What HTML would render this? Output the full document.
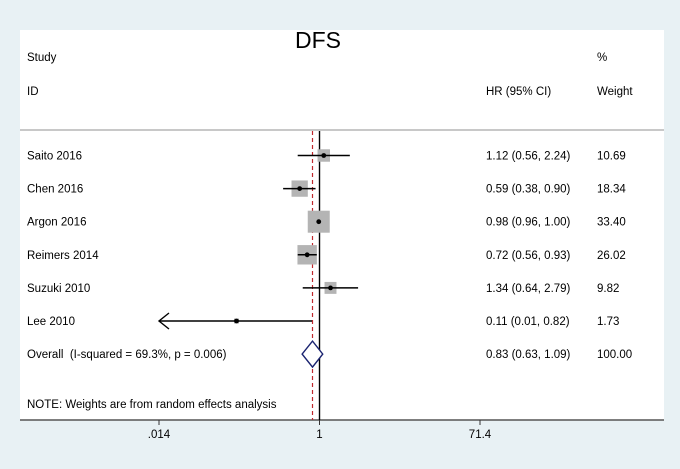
<!DOCTYPE html>
<html><head><meta charset="utf-8"><style>
body{margin:0;background:#e8f1f4;}
svg{display:block;font-family:"Liberation Sans",Arial,sans-serif;}
text{white-space:pre;}
</style></head><body>
<svg id="c" width="680" height="469" viewBox="0 0 680 469">
<rect x="0" y="0" width="680" height="469" fill="#e8f1f4"/>
<rect x="20" y="30" width="644" height="390" fill="#ffffff"/>
<text x="318" y="48" font-size="23" text-anchor="middle">DFS</text>
<text x="27" y="61" font-size="11.5">Study</text>
<text x="27" y="95" font-size="11.5">ID</text>
<text x="486" y="95" font-size="11.5">HR (95% CI)</text>
<text x="597" y="61" font-size="11.5">%</text>
<text x="597" y="95" font-size="11.5">Weight</text>
<line x1="20" y1="130" x2="664" y2="130" stroke="#c8c8c8" stroke-width="2"/>
<line x1="20" y1="420" x2="664" y2="420" stroke="#555" stroke-width="1.4"/>
<text x="27" y="408" font-size="11.5">NOTE: Weights are from random effects analysis</text>
</svg>
<script>
const studies=["Saito 2016","Chen 2016","Argon 2016","Reimers 2014","Suzuki 2010","Lee 2010"];
const hr=[1.12,0.59,0.98,0.72,1.34,0.11];
const lo=[0.56,0.38,0.96,0.56,0.64,0.01];
const hi=[2.24,0.90,1.00,0.93,2.79,0.82];
const weights=[10.69,18.34,33.40,26.02,9.82,1.73];
const ciLabels=["1.12 (0.56, 2.24)","0.59 (0.38, 0.90)","0.98 (0.96, 1.00)","0.72 (0.56, 0.93)","1.34 (0.64, 2.79)","0.11 (0.01, 0.82)"];
const weightLabels=["10.69","18.34","33.40","26.02","9.82","1.73"];
const overall=[0.83,0.63,1.09];
const overallLabel="0.83 (0.63, 1.09)";
const overallText="Overall  (I-squared = 69.3%, p = 0.006)";
const ticks=[0.014,1,71.4];
const tickLabels=[".014","1","71.4"];

const NS="http://www.w3.org/2000/svg";
const svg=document.getElementById('c');
const FS=11.5;
const xMin=0.014,xMax=71.4,px0=159,px1=480;
function x(v){const c=Math.max(xMin,Math.min(xMax,v));return px0+(Math.log(c)-Math.log(xMin))/(Math.log(xMax)-Math.log(xMin))*(px1-px0);}
function y(i){return 155.5+i*33.1;}
function mk(tag,at){const e=document.createElementNS(NS,tag);for(const k in at)e.setAttribute(k,at[k]);svg.appendChild(e);return e;}
function txt(s,xx,yy,anchor){const t=mk('text',{x:xx,y:yy,'font-size':FS,'text-anchor':anchor||'start'});t.textContent=s;return t;}

let l=mk('line',{x1:x(1),y1:131,x2:x(1),y2:420,stroke:'#000','stroke-width':1.4});


l=mk('line',{x1:x(overall[0]),y1:131,x2:x(overall[0]),y2:420,stroke:'#c0282d','stroke-width':1.2,'stroke-dasharray':'4,3'});



const maxW=Math.max(...weights);
studies.forEach((s,i)=>{
  const yy=y(i);
  const side=22*Math.sqrt(weights[i]/maxW);
  const r=mk('rect',{x:x(hr[i])-side/2,y:yy-side/2,width:side,height:side,fill:'#b4b4b4'});
  
  
  const ln=mk('line',{x1:x(lo[i]),y1:yy,x2:x(hi[i]),y2:yy,stroke:'#000','stroke-width':1.5});
  
  
  if(lo[i]<xMin){
    const a=mk('polyline',{points:`${x(xMin)+10},${yy-8} ${x(xMin)},${yy} ${x(xMin)+10},${yy+8}`,fill:'none',stroke:'#000','stroke-width':1.4});
    
    
  }
  const d=mk('circle',{cx:x(hr[i]),cy:yy,r:2.4,fill:'#000'});
  
  
  let t=txt(s,27,yy+4);
  
  
  t=txt(ciLabels[i],486,yy+4);
  
  
  t=txt(weightLabels[i],597,yy+4);
  
  
});
const oy=y(6);
const dm=mk('polygon',{points:`${x(overall[1])},${oy} ${x(overall[0])},${oy-13} ${x(overall[2])},${oy} ${x(overall[0])},${oy+13}`,fill:'#fff',stroke:'#1a2370','stroke-width':1.4});


let t=txt(overallText,27,oy+4);


t=txt(overallLabel,486,oy+4);


t=txt("100.00",597,oy+4);



ticks.forEach((v,i)=>{
  const tk=mk('line',{x1:x(v),y1:420,x2:x(v),y2:425,stroke:'#333','stroke-width':1});
  
  
  const tl=txt(tickLabels[i],x(v),438,'middle');
  
  
});
</script>
</body></html>
